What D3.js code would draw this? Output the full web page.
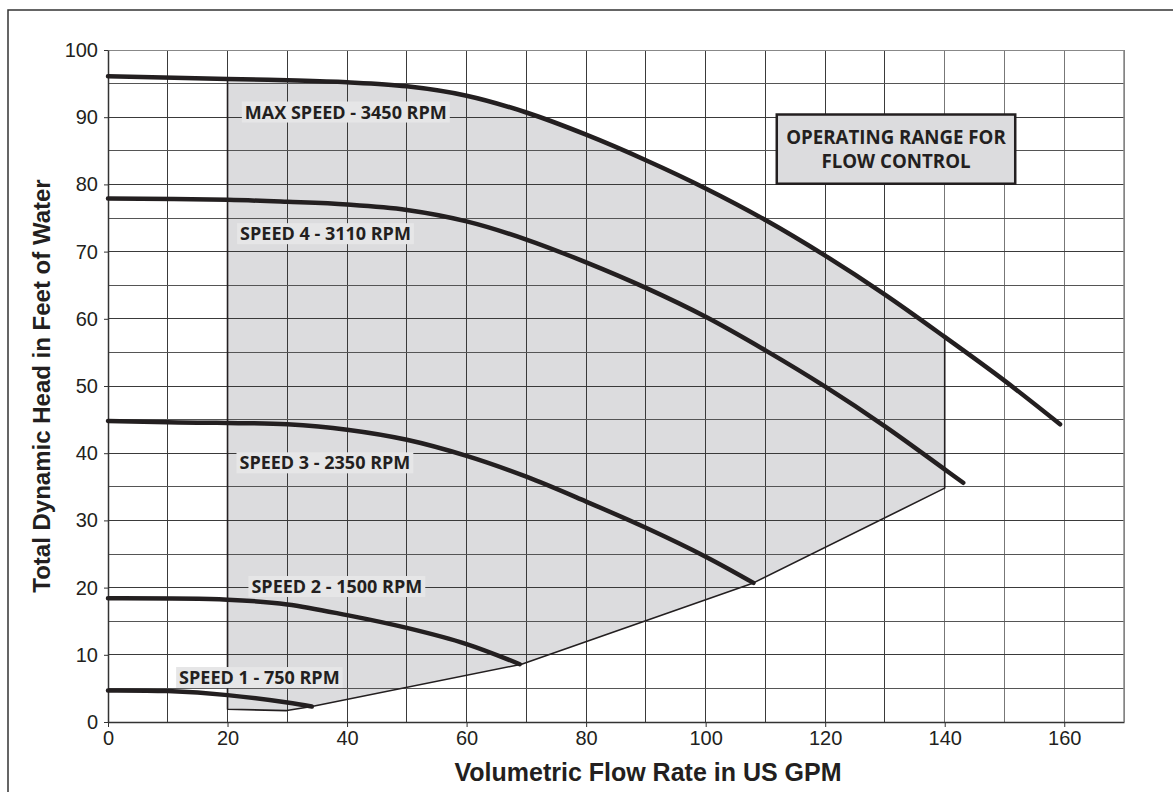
<!DOCTYPE html>
<html>
<head>
<meta charset="utf-8">
<script src="https://cdn.jsdelivr.net/npm/d3@7"></script>
<style>
  body { margin: 0; background: #fff; }
  svg { display: block; }
</style>
</head>
<body>
<div id="chart"></div>
<script>
// Pump curves (GPM vs feet of head)
const maxSpeedGpm  = [0, 20, 30, 40, 50, 60, 70, 80, 90, 100, 110, 120, 130, 140, 150, 159.3]
const maxSpeedHead = [96.1, 95.7, 95.5, 95.2, 94.6, 93.2, 90.7, 87.4, 83.6, 79.4, 74.7, 69.4, 63.6, 57.3, 50.8, 44.3]

const speed4Gpm  = [0, 20, 30, 40, 50, 60, 70, 80, 90, 100, 110, 120, 130, 140, 143.1]
const speed4Head = [77.9, 77.7, 77.4, 77.0, 76.2, 74.5, 71.8, 68.4, 64.6, 60.3, 55.3, 49.9, 44.0, 37.6, 35.6]

const speed3Gpm  = [0, 10, 20, 30, 40, 50, 60, 70, 80, 90, 100, 108]
const speed3Head = [44.8, 44.6, 44.5, 44.3, 43.5, 42.0, 39.6, 36.5, 32.8, 28.9, 24.6, 20.7]

const speed2Gpm  = [0, 20, 30, 40, 50, 60, 68.9]
const speed2Head = [18.4, 18.2, 17.5, 15.9, 14.0, 11.6, 8.6]

const speed1Gpm  = [0, 10, 20, 30, 34.1]
const speed1Head = [4.7, 4.6, 4.0, 2.9, 2.3]

// Operating range outline (from top of x=20 edge, round the bottom, up to x=140)
const rangeGpm  = [20, 20, 29.9, 34.1, 69.2, 108, 140, 140]
const rangeHead = [95.7, 1.9, 1.7, 2.3, 8.6, 20.7, 34.8, 57.3]

const xTickValues = [0, 20, 40, 60, 80, 100, 120, 140, 160]
const yTickValues = [0, 10, 20, 30, 40, 50, 60, 70, 80, 90, 100]

const curveNames = ["MAX SPEED - 3450 RPM", "SPEED 4 - 3110 RPM", "SPEED 3 - 2350 RPM",
                    "SPEED 2 - 1500 RPM", "SPEED 1 - 750 RPM"]
const labelGpm  = [22.9, 22.1, 22.0, 24.0, 11.9]
const labelHead = [89.8, 71.7, 37.6, 19.2, 5.65]

const rangeNote = ["OPERATING RANGE FOR", "FLOW CONTROL"]

// Environment
const width = 1173
const height = 792
const ink = "#231f20"
const shade = "#dcdcde"

const x = d3.scaleLinear().domain([0, 170]).range([108, 1124])
const y = d3.scaleLinear().domain([0, 100]).range([722, 50])

const svg = d3.select("#chart").append("svg")
    .attr("width", width)
    .attr("height", height)

// Outer frame (only left and top visible)
svg.append("path")
    .attr("d", `M8,${height} V10 H${width}`)
    .style("fill", "none")
    .style("stroke", "#333")
    .style("stroke-width", 1.5)

const zip = (xs, ys) => xs.map((v, i) => [v, ys[i]])
const line = d3.line().x(d => x(d[0])).y(d => y(d[1])).curve(d3.curveCatmullRom.alpha(0.5))
const straight = d3.line().x(d => x(d[0])).y(d => y(d[1]))

// Shaded operating range: area under max speed curve, clipped to the range outline
const rangePts = zip(rangeGpm, rangeHead)
svg.append("clipPath").attr("id", "range-clip")
    .append("path")
    .attr("d", straight([[20, 100], ...rangePts.slice(1, 7), [140, 100]]) + "Z")

const maxPts = zip(maxSpeedGpm, maxSpeedHead)
svg.append("path")
    .attr("d", line(maxPts) + `L${x(159.3)},${y(0)}L${x(0)},${y(0)}Z`)
    .attr("clip-path", "url(#range-clip)")
    .style("fill", shade)
    .style("stroke", "none")

// Grid
const grid = svg.append("g").attr("id", "grid")
    .style("stroke", "#3a3a3a")
    .style("stroke-width", 1)
    .attr("shape-rendering", "crispEdges")

grid.selectAll("line.vx")
    .data(d3.range(10, 171, 10))
    .enter().append("line")
    .attr("x1", d => x(d)).attr("x2", d => x(d))
    .attr("y1", y(0)).attr("y2", y(100))
    .style("stroke", d => d >= 140 ? "#777" : null)

grid.selectAll("line.hy")
    .data(d3.range(5, 101, 5))
    .enter().append("line")
    .attr("x1", x(0)).attr("x2", x(170))
    .attr("y1", d => y(d)).attr("y2", d => y(d))
    .style("stroke", d => d === 100 ? "#888" : (d % 10 ? "#555" : null))

// Axes
const xAxis = svg.append("g")
    .attr("transform", `translate(0,${y(0)})`)
    .call(d3.axisBottom(x).tickValues(xTickValues).tickSize(5).tickPadding(4).tickSizeOuter(0))
const yAxis = svg.append("g")
    .attr("transform", `translate(${x(0)},0)`)
    .call(d3.axisLeft(y).tickValues(yTickValues).tickSize(4).tickPadding(6).tickSizeOuter(0))

;[xAxis, yAxis].forEach(a => {
    a.select(".domain").style("stroke", "#333").style("stroke-width", 1.5)
    a.selectAll(".tick line").style("stroke", "#333")
    a.selectAll(".tick text")
        .style("font-family", "'Liberation Sans', Arial, sans-serif")
        .style("font-size", "20px")
        .style("fill", ink)
})
svg.append("line")
    .attr("x1", x(170)).attr("x2", x(170))
    .attr("y1", y(0)).attr("y2", y(100))
    .style("stroke", "#888").style("stroke-width", 1.5)

// Range outline
svg.append("path")
    .attr("d", straight(rangePts))
    .style("fill", "none")
    .style("stroke", ink)
    .style("stroke-width", 1.6)
    .style("stroke-linejoin", "round")

// Pump curves
const curves = [
    maxPts,
    zip(speed4Gpm, speed4Head),
    zip(speed3Gpm, speed3Head),
    zip(speed2Gpm, speed2Head),
    zip(speed1Gpm, speed1Head)
]
svg.append("g").attr("id", "curves")
    .selectAll("path")
    .data(curves)
    .enter().append("path")
    .attr("d", line)
    .style("fill", "none")
    .style("stroke", ink)
    .style("stroke-width", 4.5)
    .style("stroke-linecap", "round")

// Curve labels with light backing
const labels = svg.append("g").attr("id", "labels")
curveNames.forEach((name, i) => {
    const g = labels.append("g")
    const t = g.append("text")
        .attr("x", x(labelGpm[i]))
        .attr("y", y(labelHead[i]))
        .text(name)
        .style("font-family", "'Open Sans', sans-serif")
        .style("font-weight", "bold")
        .style("font-size", "18px")
        .style("fill", ink)
    const b = t.node().getBBox()
    g.insert("rect", "text")
        .attr("x", b.x - 3).attr("y", b.y + 2)
        .attr("width", b.width + 6).attr("height", b.height - 3)
        .style("fill", "#e6e6e7")
})

// Operating range note box
const note = svg.append("g").attr("id", "note")
note.append("rect")
    .attr("x", x(111.9)).attr("y", y(90.4))
    .attr("width", x(151.8) - x(111.9))
    .attr("height", y(80.1) - y(90.4))
    .style("fill", shade)
    .style("stroke", ink)
    .style("stroke-width", 2.5)
note.selectAll("text")
    .data(rangeNote)
    .enter().append("text")
    .attr("x", (x(111.9) + x(151.8)) / 2)
    .attr("y", (d, i) => 144 + i * 23.5)
    .attr("text-anchor", "middle")
    .text(d => d)
    .style("font-family", "'Open Sans', sans-serif")
    .style("font-weight", "bold")
    .style("font-size", "18.7px")
    .style("fill", ink)

// Axis titles
svg.append("text")
    .attr("x", 648).attr("y", 781)
    .attr("text-anchor", "middle")
    .text("Volumetric Flow Rate in US GPM")
    .style("font-family", "'Liberation Sans', Arial, sans-serif")
    .style("font-weight", "bold")
    .style("font-size", "25px")
    .style("fill", ink)

svg.append("text")
    .attr("transform", `translate(50,${(y(0) + y(100)) / 2}) rotate(-90)`)
    .attr("text-anchor", "middle")
    .text("Total Dynamic Head in Feet of Water")
    .style("font-family", "'Liberation Sans', Arial, sans-serif")
    .style("font-weight", "bold")
    .style("font-size", "24px")
    .style("fill", ink)
</script>
</body>
</html>
